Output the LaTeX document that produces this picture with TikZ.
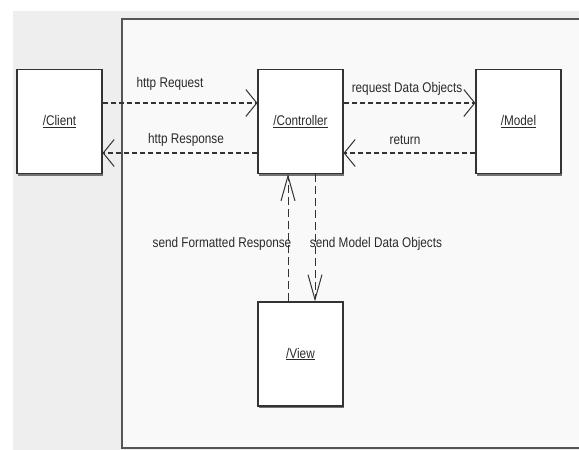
\documentclass[tikz,border=0pt]{standalone}
\usepackage{fontspec}
\setmainfont{Liberation Sans}[FakeStretch=0.84]
\usetikzlibrary{arrows.meta,shadows}
\definecolor{pagegrey}{HTML}{EEEEEE}
\definecolor{panelfill}{HTML}{F9F9F9}
\definecolor{panelline}{HTML}{555555}
\definecolor{boxline}{HTML}{333333}
\definecolor{txt}{HTML}{2A2A2A}
\begin{document}
\begin{tikzpicture}[x=1pt,y=-1pt,
  every node/.style={font=\fontsize{14}{16}\selectfont, text=txt},
  objbox/.style={draw=boxline, fill=white, line width=1.1pt, minimum width=85pt, minimum height=104pt,
    inner sep=0pt, drop shadow={shadow xshift=0.6pt, shadow yshift=-2pt, fill=gray!90!black, opacity=1}},
  hmsg/.style={draw=boxline, line width=1.6pt, dash pattern=on 5pt off 3pt,
    -{Straight Barb[length=11pt,width=27pt,line width=1pt]}},
  vmsg/.style={draw=boxline, line width=0.9pt, dash pattern=on 8pt off 4pt,
    -{Straight Barb[length=25pt,width=14pt,line width=1pt]}},
  lbl/.style={inner sep=0pt, fill=none}
]
\useasboundingbox (0,0) rectangle (579,450);
\fill[white] (0,0) rectangle (579,450);
\fill[pagegrey] (13,11) rectangle (579,450);
\fill[panelfill] (122,19) rectangle (579,448);
\draw[panelline, line width=1.4pt] (580,19) -- (122,19) -- (122,448) -- (580,448);

\node[objbox] (client) at (59.5,121.5) {\underline{/Client}};
\node[objbox] (controller) at (300.5,121.5) {\underline{/Controller}};
\node[objbox] (model) at (518.5,121.5) {\underline{/Model}};
\node[objbox] (view) at (300.5,354) {\underline{/View}};

\draw[hmsg] (client.east |- 0,103) -- (controller.west |- 0,103);
\draw[hmsg] (controller.west |- 0,153) -- (client.east |- 0,153);
\draw[hmsg] (controller.east |- 0,103) -- (model.west |- 0,103);
\draw[hmsg] (model.west |- 0,153) -- (controller.east |- 0,153);
\draw[vmsg] (view.north -| 288,0) -- (controller.south -| 288,0);
\draw[vmsg] (controller.south -| 315,0) -- (view.north -| 315,0);

\node[lbl] (lreq) at (170,84) {http Request};
\node[lbl] (lresp) at (186,140) {http Response};
\node[lbl] (lrdo) at (407,89) {request Data Objects};
\node[lbl] (lret) at (405,140) {return};
\node[lbl] (lsfr) at (222,244) {send Formatted Response};
\node[lbl] (lsmd) at (376,244) {send Model Data Objects};
\end{tikzpicture}
\end{document}
